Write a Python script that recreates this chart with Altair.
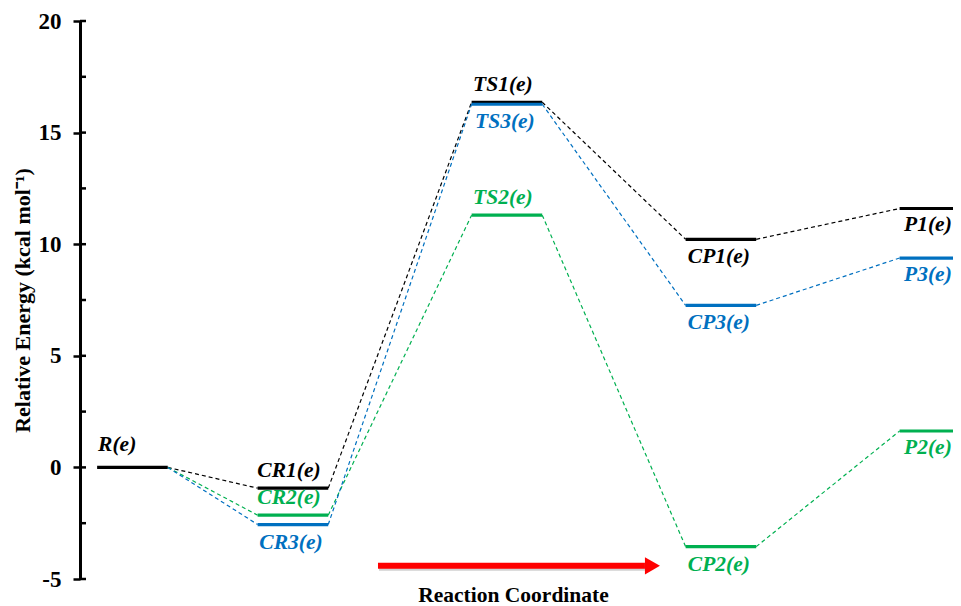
import altair as alt
import pandas as pd

# ---------------- data ----------------
stage_names = ["R", "CR", "TS", "CP", "P"]
stage_pos = [0.0, 1.5, 3.5, 5.5, 7.5]
half_width = 0.33

path_ids = ["1", "2", "3"]
labels_1 = ["R(e)", "CR1(e)", "TS1(e)", "CP1(e)", "P1(e)"]
labels_2 = ["R(e)", "CR2(e)", "TS2(e)", "CP2(e)", "P2(e)"]
labels_3 = ["R(e)", "CR3(e)", "TS3(e)", "CP3(e)", "P3(e)"]
energy_1 = [0.0, -0.93, 16.36, 10.22, 11.60]
energy_2 = [0.0, -2.14, 11.30, -3.55, 1.63]
energy_3 = [0.0, -2.56, 16.27, 7.26, 9.38]
side_1 = ["above", "above", "above", "below", "below"]
side_2 = ["above", "above", "above", "below", "below"]
side_3 = ["above", "below", "below", "below", "below"]

path_colors = ["#000000", "#00B050", "#0070C0"]
tick_values = [-5, -2.5, 0, 2.5, 5, 7.5, 10, 12.5, 15, 17.5, 20]
major_ticks = [-5, 0, 5, 10, 15, 20]
arrow_x = [2.295, 4.79]
arrow_head_x = [4.86]
arrow_y = [-4.41]

# ---------------- tables ----------------
paths = {
    "1": (labels_1, energy_1, side_1),
    "2": (labels_2, energy_2, side_2),
    "3": (labels_3, energy_3, side_3),
}
level_rows, conn_rows = [], []
for pid in path_ids:
    labs, ens, sides = paths[pid]
    for i, st in enumerate(stage_names):
        if st == "R" and pid != "1":
            continue
        level_rows.append(dict(path=pid, stage=st, label=labs[i], energy=ens[i],
                               xc=stage_pos[i], x0=stage_pos[i] - half_width,
                               x1=stage_pos[i] + half_width, side=sides[i]))
    for i in range(len(stage_names) - 1):
        conn_rows.append(dict(path=pid, x0=stage_pos[i] + half_width,
                              x1=stage_pos[i + 1] - half_width,
                              energy=ens[i], energy2=ens[i + 1]))
levels = pd.DataFrame(level_rows)
conns = pd.DataFrame(conn_rows)
ticks = pd.DataFrame({"energy": tick_values})
arrow = pd.DataFrame({"x0": [arrow_x[0]], "x1": [arrow_x[1]], "energy": arrow_y})
head = pd.DataFrame({"x0": arrow_head_x, "energy": arrow_y})

FONT = "Liberation Serif"
LABEL_SIZE = 21.5
xscale = alt.Scale(domain=[-0.49, 7.669], nice=False, zero=False)
yscale = alt.Scale(domain=[-5, 20], nice=False, zero=False)
cscale = alt.Scale(domain=path_ids, range=path_colors)

x_axis = alt.Axis(domain=False, ticks=False, labels=False, grid=False,
                  title="Reaction Coordinate", titleFont=FONT, titleFontSize=21.5,
                  titleFontWeight="bold", titleColor="black", titlePadding=5,
                  titleX=433)
y_axis = alt.Axis(values=major_ticks, grid=False, domainColor="black", domainWidth=3,
                  tickColor="black", tickWidth=2.5, tickSize=7, labelPadding=12,
                  labelFont=FONT, labelFontSize=23, labelFontWeight="bold",
                  labelColor="black",
                  labelExpr="datum.value < 0 ? '-' + abs(datum.value) : '' + datum.value",
                  title="Relative Energy (kcal mol⁻¹)", titleFont=FONT,
                  titleFontSize=22, titleFontWeight="bold", titleColor="black",
                  titlePadding=4)


def X(field):
    return alt.X(field, type="quantitative", scale=xscale, axis=x_axis,
                 title="Reaction Coordinate")


def Y(field):
    return alt.Y(field, type="quantitative", scale=yscale, axis=y_axis,
                 title="Relative Energy (kcal mol⁻¹)")


color = alt.Color("path:N", scale=cscale, legend=None)

conn_layer = alt.Chart(conns).mark_rule(strokeDash=[4, 3], strokeWidth=1.2).encode(
    x=X("x0"), x2="x1", y=Y("energy"), y2="energy2", color=color,
)

level_layer = alt.Chart(levels).mark_rule(strokeWidth=3.2).encode(
    x=X("x0"), x2="x1", y=Y("energy"), color=color,
)


def label_layer(cond, dy, dx):
    return alt.Chart(levels).transform_filter(cond).mark_text(
        font=FONT, fontSize=LABEL_SIZE, fontWeight="bold", fontStyle="italic",
        baseline="middle", align="center", dy=dy, dx=dx).encode(
        x=X("xc"), y=Y("energy"), text="label:N", color=color,
    )


inner = (alt.datum.stage != "R") & (alt.datum.stage != "P")
above_labels = label_layer(inner & (alt.datum.side == "above"), -17, -4)
below_labels = label_layer(inner & (alt.datum.side == "below"), 18, -2)
p_labels = label_layer(alt.datum.stage == "P", 17, -7)

r_label = alt.Chart(levels).transform_filter(alt.datum.stage == "R").mark_text(
    font=FONT, fontSize=LABEL_SIZE, fontWeight="bold", fontStyle="italic",
    baseline="middle", align="left", dy=-22, dx=1).encode(
    x=X("x0"), y=Y("energy"), text="label:N", color=color,
)

inner_ticks = alt.Chart(ticks).mark_rule(color="black", strokeWidth=2.5).encode(
    x=alt.value(0), x2=alt.value(6), y=Y("energy"),
)

arrow_shadow = alt.Chart(arrow).mark_rule(color="#9a9a9a", strokeWidth=6, opacity=0.45,
                                          yOffset=2, xOffset=1).encode(
    x=X("x0"), x2="x1", y=Y("energy"),
)
arrow_shaft = alt.Chart(arrow).mark_rule(color="#FF0000", strokeWidth=6).encode(
    x=X("x0"), x2="x1", y=Y("energy"),
)
arrow_head = alt.Chart(head).mark_point(shape="triangle-right", filled=True,
                                        color="#FF0000", opacity=1, size=300).encode(
    x=X("x0"), y=Y("energy"),
)

chart = alt.layer(
    conn_layer, level_layer, above_labels, below_labels, p_labels,
    r_label, inner_ticks, arrow_shadow, arrow_shaft, arrow_head,
).properties(
    width=873, height=558,
    padding={"left": 72, "top": 13, "right": 0, "bottom": 27},
    autosize=alt.AutoSizeParams(type="none"),
    background="white",
).configure_view(stroke=None)

chart.save("out.html", embed_options={"renderer": "svg", "actions": False})
